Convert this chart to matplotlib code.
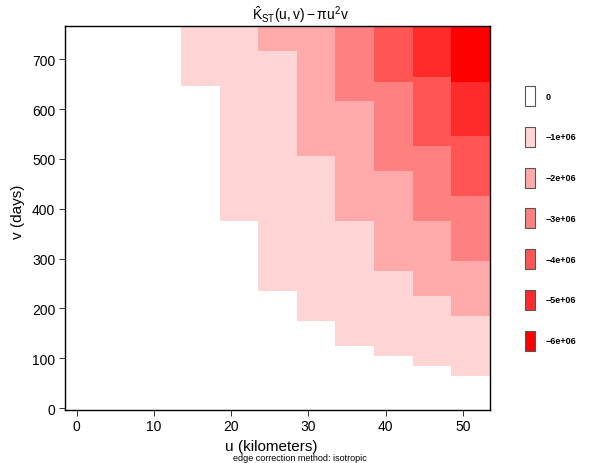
import numpy as np
import matplotlib
matplotlib.use("Agg")
import matplotlib.pyplot as plt
from matplotlib.colors import ListedColormap, BoundaryNorm
from matplotlib.patches import Rectangle

plt.rcParams['font.family'] = ['Liberation Sans', 'DejaVu Sans']
plt.rcParams['mathtext.fontset'] = 'custom'
plt.rcParams['mathtext.rm'] = 'Liberation Sans'
plt.rcParams['mathtext.it'] = 'Liberation Sans'
plt.rcParams['mathtext.bf'] = 'Liberation Sans:bold'

# ---- data ----
u_centers = [1, 6, 11, 16, 21, 26, 31, 36, 41, 46, 51]
u_step = 5
v_range = [-3, 766]
# v (days) above which K_ST - pi u^2 v drops below -1e6, -2e6, ... for each u column
level_breaks = [
    [],
    [],
    [],
    [646],
    [375],
    [236, 716],
    [175, 506],
    [125, 376, 616],
    [105, 276, 476, 655],
    [85, 225, 376, 526, 665],
    [65, 185, 295, 426, 546, 655],
]
legend_values = [0, -1e6, -2e6, -3e6, -4e6, -5e6, -6e6]
legend_labels = ["0", "\u22121e+06", "\u22122e+06", "\u22123e+06", "\u22124e+06", "\u22125e+06", "\u22126e+06"]
legend_colors = ["#FFFFFF", "#FFD4D4", "#FFAAAA", "#FF8080", "#FF5555", "#FF2A2A", "#FF0000"]
x_ticks = [0, 10, 20, 30, 40, 50]
y_ticks = [0, 100, 200, 300, 400, 500, 600, 700]

# ---- build grid ----
u_edges = np.array([u_centers[0] - u_step / 2] + [c + u_step / 2 for c in u_centers])
all_breaks = sorted(set(b for col in level_breaks for b in col))
v_edges = np.array([v_range[0]] + all_breaks + [v_range[1]], dtype=float)
v_mid = (v_edges[:-1] + v_edges[1:]) / 2
Z = np.zeros((len(v_mid), len(u_centers)))
for j, br in enumerate(level_breaks):
    for i, vm in enumerate(v_mid):
        Z[i, j] = -1e6 * sum(1 for b in br if vm >= b)

order = np.argsort(legend_values)
cmap = ListedColormap([legend_colors[k] for k in order])
bounds = [legend_values[order[0]] - 0.5e6] + [legend_values[k] + 0.5e6 for k in order]
norm = BoundaryNorm(bounds, cmap.N)

fig = plt.figure(figsize=(6.0, 4.64), dpi=100)
ax = fig.add_axes([65 / 600, 1 - 410.7 / 464, 425 / 600, 383.4 / 464])
ax.pcolormesh(u_edges, v_edges, Z, cmap=cmap, norm=norm, shading='flat',
              edgecolors='none', antialiased=False)
ax.set_xlim(u_edges[0], u_edges[-1])
ax.set_ylim(v_range[0], v_range[1])
ax.set_xticks(x_ticks)
ax.set_yticks(y_ticks)
ax.tick_params(direction='out', length=4, width=0.7, labelsize=10, color='#333333', pad=3)
for s in ax.spines.values():
    s.set_linewidth(1.0)
    s.set_color('black')
ax.set_xlabel("u (kilometers)", fontsize=11)
ax.xaxis.set_label_coords(0.485, -0.0764)
ax.set_ylabel("v (days)", fontsize=11)
ax.yaxis.set_label_coords(-0.094, 0.52)
ax.set_title(r"$\hat{K}_{ST}(u,v) - \pi u^2 v$", fontsize=10, pad=5, x=0.555)
fig.text(0.5, 5 / 464, "edge correction method: isotropic", fontsize=6.5, ha='center', va='center')

# ---- legend ----
lax = fig.add_axes([0, 0, 1, 1], facecolor='none')
lax.set_xlim(0, 600)
lax.set_ylim(464, 0)
lax.axis('off')
for k, (lab, col) in enumerate(zip(legend_labels, legend_colors)):
    yc = 97 + k * 40.8
    lax.add_patch(Rectangle((525, yc - 10), 10, 20, facecolor=col, edgecolor='#555555', linewidth=0.8))
    lax.text(546, yc, lab, fontsize=6.5, fontweight='bold', va='center', ha='left')

fig.savefig("out.png", dpi=100)
